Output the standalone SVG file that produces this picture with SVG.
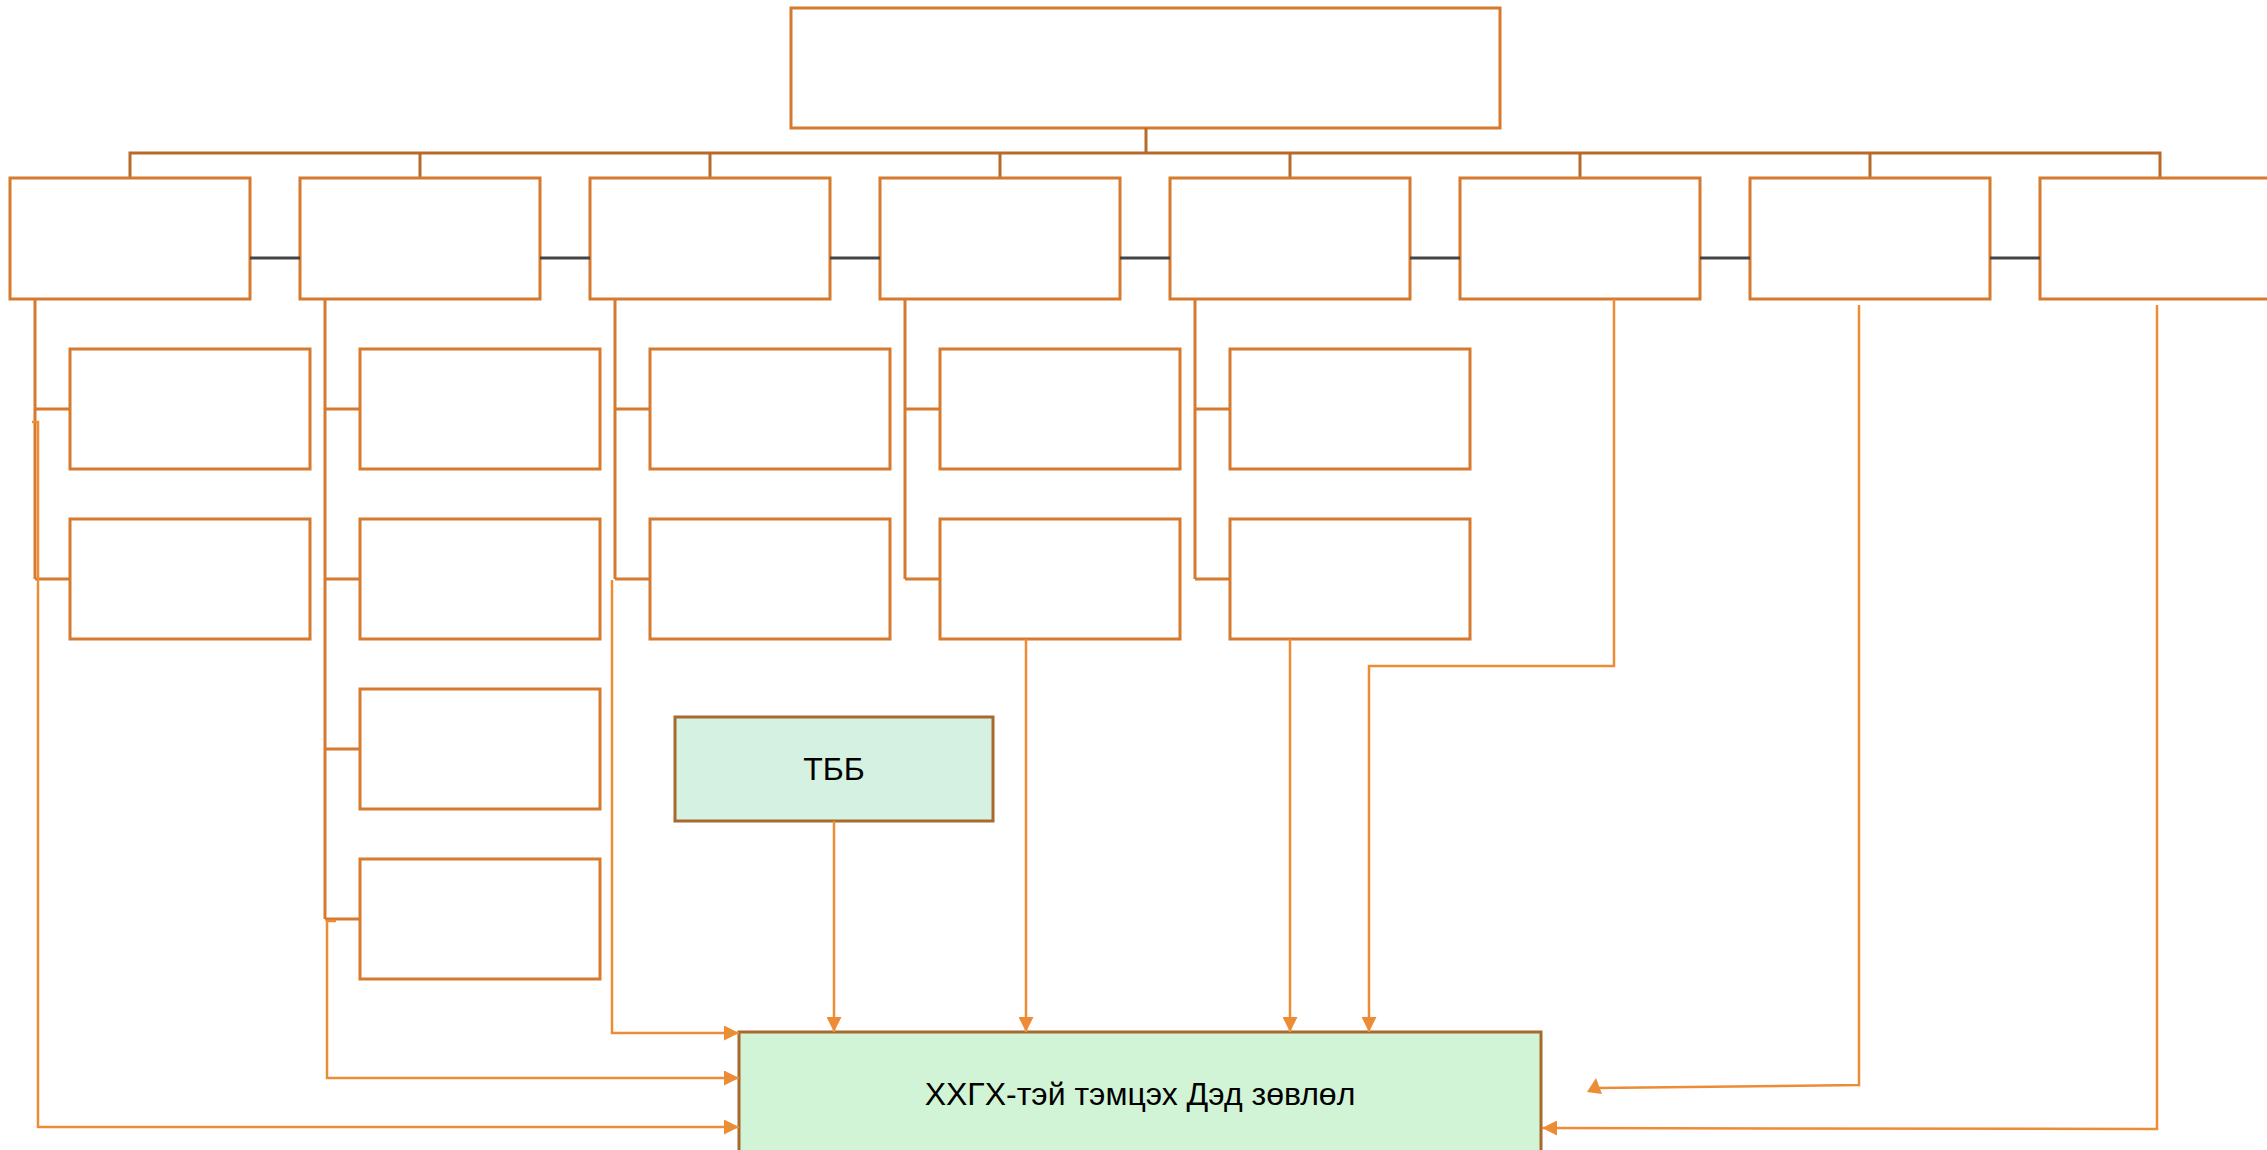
<svg xmlns="http://www.w3.org/2000/svg" width="2267" height="1150" viewBox="0 0 2267 1150">
<defs>
<style>
.box{fill:#ffffff;stroke:#d57a2f;stroke-width:3}
.bus{fill:none;stroke:#b76a29;stroke-width:3}
.link{fill:none;stroke:#444444;stroke-width:3}
.tree{fill:none;stroke:#d57a2f;stroke-width:3}
.arr{fill:none;stroke:#ec8c35;stroke-width:2.5}
.head{fill:#ec8c35}
.lbl{font-family:"Liberation Sans",Arial,sans-serif;font-size:32px;fill:#000000;text-anchor:middle;dominant-baseline:central}
</style>
<marker id="ah" viewBox="0 0 10 10" refX="10" refY="5" markerWidth="15" markerHeight="15" markerUnits="userSpaceOnUse" orient="auto">
<path d="M0,0 L10,5 L0,10 Z" fill="#ec8c35"/>
</marker>
</defs>
<rect width="2267" height="1150" fill="#ffffff"/>

<g id="top"><rect class="box" x="791" y="8" width="709" height="120"/></g>

<g id="bus">
<path class="bus" d="M1146,128 V153 M130,178 V153 H2160 V178 M420,153 V178 M710,153 V178 M1000,153 V178 M1290,153 V178 M1580,153 V178 M1870,153 V178"/>
</g>

<g id="n1"><rect class="box" x="10" y="178" width="240" height="121"/></g>
<g id="n2"><rect class="box" x="300" y="178" width="240" height="121"/></g>
<g id="n3"><rect class="box" x="590" y="178" width="240" height="121"/></g>
<g id="n4"><rect class="box" x="880" y="178" width="240" height="121"/></g>
<g id="n5"><rect class="box" x="1170" y="178" width="240" height="121"/></g>
<g id="n6"><rect class="box" x="1460" y="178" width="240" height="121"/></g>
<g id="n7"><rect class="box" x="1750" y="178" width="240" height="121"/></g>
<g id="n8"><rect class="box" x="2040" y="178" width="240" height="121"/></g>

<g id="links">
<path class="link" d="M250,258 H300 M540,258 H590 M830,258 H880 M1120,258 H1170 M1410,258 H1460 M1700,258 H1750 M1990,258 H2040"/>
</g>

<g id="n1a"><rect class="box" x="70" y="349" width="240" height="120"/></g>
<g id="n1b"><rect class="box" x="70" y="519" width="240" height="120"/></g>
<g id="n2a"><rect class="box" x="360" y="349" width="240" height="120"/></g>
<g id="n2b"><rect class="box" x="360" y="519" width="240" height="120"/></g>
<g id="n2c"><rect class="box" x="360" y="689" width="240" height="120"/></g>
<g id="n2d"><rect class="box" x="360" y="859" width="240" height="120"/></g>
<g id="n3a"><rect class="box" x="650" y="349" width="240" height="120"/></g>
<g id="n3b"><rect class="box" x="650" y="519" width="240" height="120"/></g>
<g id="n4a"><rect class="box" x="940" y="349" width="240" height="120"/></g>
<g id="n4b"><rect class="box" x="940" y="519" width="240" height="120"/></g>
<g id="n5a"><rect class="box" x="1230" y="349" width="240" height="120"/></g>
<g id="n5b"><rect class="box" x="1230" y="519" width="240" height="120"/></g>

<g id="tbb">
<rect x="675" y="717" width="318" height="104" fill="#d5f1e2" stroke="#a8692c" stroke-width="3"/>
<text class="lbl" x="834" y="769">ТББ</text>
</g>

<g id="council">
<rect x="739" y="1032" width="802" height="124" fill="#d2f4d6" stroke="#a8692c" stroke-width="3"/>
<text class="lbl" x="1140" y="1094">ХХГХ-тэй тэмцэх Дэд зөвлөл</text>
</g>

<g id="connectors">
<path class="tree" d="M35,299 V579 M35,409 H70 M35,579 H70"/>
<path class="tree" d="M325,299 V919 M325,409 H360 M325,579 H360 M325,749 H360 M325,919 H360"/>
<path class="tree" d="M615,299 V579 M615,409 H650 M615,579 H650"/>
<path class="tree" d="M905,299 V579 M905,409 H940 M905,579 H940"/>
<path class="tree" d="M1195,299 V579 M1195,409 H1230 M1195,579 H1230"/>

<path class="arr" marker-end="url(#ah)" d="M32,422 H38 V1127 H739"/>
<path class="arr" marker-end="url(#ah)" d="M336,921 H327 V1078 H739"/>
<path class="arr" marker-end="url(#ah)" d="M612,580 V1033 H739"/>
<path class="arr" marker-end="url(#ah)" d="M834,821 V1032"/>
<path class="arr" marker-end="url(#ah)" d="M1026,639 V1032"/>
<path class="arr" marker-end="url(#ah)" d="M1290,639 V1032"/>
<path class="arr" marker-end="url(#ah)" d="M1614,299 V666 H1369 V1032"/>
<path class="arr" d="M1859,305 V1085 L1598,1088"/>
<polygon class="head" points="1587,1092 1596,1078 1602,1094"/>
<path class="arr" marker-end="url(#ah)" d="M2157,305 V1129 L1542,1128"/>
</g>
</svg>
